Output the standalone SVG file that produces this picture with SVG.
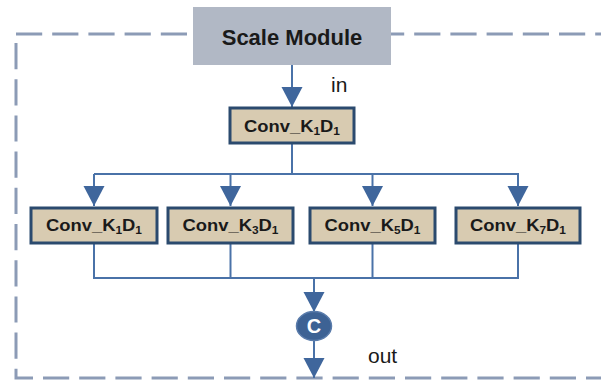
<svg xmlns="http://www.w3.org/2000/svg" width="601" height="380" viewBox="0 0 601 380">
<defs>
<marker id="ah" markerUnits="userSpaceOnUse" markerWidth="20" markerHeight="22" refX="20" refY="10.5" orient="auto" viewBox="0 0 20 21">
<path d="M0,0 L20,10.5 L0,21 z" fill="#3f669c"/>
</marker>
<style>
.frame{fill:none;stroke:#8c9bb6;stroke-width:3;stroke-dasharray:26.2 10}
.conn{fill:none;stroke:#4a72a8;stroke-width:2}
.arr{marker-end:url(#ah)}
.conv{fill:#d8cbb1;stroke:#2b4a6e;stroke-width:3}
.ct{font-family:"Liberation Sans",Arial,sans-serif;font-weight:bold;font-size:17px;fill:#1a1a1a;text-anchor:middle}
.sub{font-size:11px}
.lbl{font-family:"Liberation Sans",Arial,sans-serif;font-size:21px;fill:#1a1a1a}
</style>
</defs>
<rect width="601" height="380" fill="#ffffff"/>
<g id="frame">
<path class="frame" d="M16,34 H640"/>
<path class="frame" d="M16,43 V378 H640"/>
</g>
<g id="connectors">
<path class="conn arr" d="M292,65 V107"/>
<path class="conn" d="M292,143 V174"/>
<path class="conn" d="M94,174 H519"/>
<path class="conn arr" d="M94,174 V206"/>
<path class="conn arr" d="M230.5,174 V206"/>
<path class="conn arr" d="M372.5,174 V206"/>
<path class="conn arr" d="M518,174 V206"/>
<path class="conn" d="M94,243 V278 H518 V243"/>
<path class="conn" d="M230.5,243 V278"/>
<path class="conn" d="M372.5,243 V278"/>
<path class="conn arr" d="M314,278 V312"/>
<path class="conn arr" d="M314,340 V378"/>
</g>
<g id="scale-module">
<rect x="193" y="7" width="198" height="58" fill="#b1b8c5"/>
<text x="292" y="45" font-family="'Liberation Sans',Arial,sans-serif" font-weight="bold" font-size="22" fill="#1a1a1a" text-anchor="middle">Scale Module</text>
</g>
<g id="conv-top">
<rect class="conv" x="230" y="108" width="124" height="35"/>
<text class="ct" x="292" y="132" textLength="96" lengthAdjust="spacingAndGlyphs">Conv_K<tspan class="sub" dy="3">1</tspan><tspan dy="-3">D</tspan><tspan class="sub" dy="3">1</tspan></text>
</g>
<g id="conv-k1">
<rect class="conv" x="31" y="208" width="126" height="35"/>
<text class="ct" x="94" y="231" textLength="96" lengthAdjust="spacingAndGlyphs">Conv_K<tspan class="sub" dy="3">1</tspan><tspan dy="-3">D</tspan><tspan class="sub" dy="3">1</tspan></text>
</g>
<g id="conv-k3">
<rect class="conv" x="168" y="208" width="125" height="35"/>
<text class="ct" x="230.5" y="231" textLength="96" lengthAdjust="spacingAndGlyphs">Conv_K<tspan class="sub" dy="3">3</tspan><tspan dy="-3">D</tspan><tspan class="sub" dy="3">1</tspan></text>
</g>
<g id="conv-k5">
<rect class="conv" x="310" y="208" width="125" height="35"/>
<text class="ct" x="372.5" y="231" textLength="96" lengthAdjust="spacingAndGlyphs">Conv_K<tspan class="sub" dy="3">5</tspan><tspan dy="-3">D</tspan><tspan class="sub" dy="3">1</tspan></text>
</g>
<g id="conv-k7">
<rect class="conv" x="456" y="208" width="124" height="35"/>
<text class="ct" x="518" y="231" textLength="96" lengthAdjust="spacingAndGlyphs">Conv_K<tspan class="sub" dy="3">7</tspan><tspan dy="-3">D</tspan><tspan class="sub" dy="3">1</tspan></text>
</g>
<g id="concat">
<ellipse cx="314" cy="326" rx="17.5" ry="14.5" fill="#3d6294" stroke="#5a7cab" stroke-width="1.5"/>
<text x="314" y="333" font-family="'Liberation Sans',Arial,sans-serif" font-weight="bold" font-size="20" fill="#ffffff" text-anchor="middle">C</text>
</g>
<g id="labels">
<text class="lbl" x="331" y="92">in</text>
<text class="lbl" x="368" y="363">out</text>
</g>
</svg>
